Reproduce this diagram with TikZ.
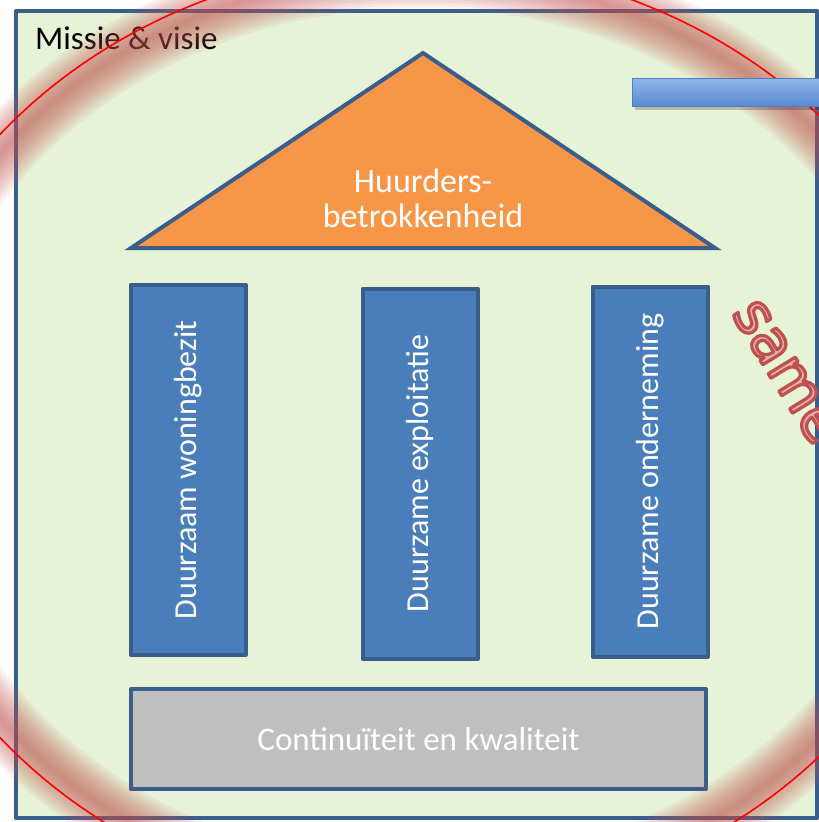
\documentclass[tikz,border=0pt]{standalone}
\usepackage{fontspec}
\setmainfont{Carlito}
\newfontfamily\wmfont{DejaVu Sans}
\usetikzlibrary{calc}
\definecolor{bgreen}{HTML}{E6F3D7}
\definecolor{edge}{HTML}{3A5E8C}
\definecolor{orng}{HTML}{F79646}
\definecolor{pillar}{HTML}{4A7EBB}
\definecolor{grayb}{HTML}{BFBFBF}
\definecolor{glowc}{HTML}{C0504D}
\definecolor{pinkf}{HTML}{E6AEAE}
\definecolor{bartop}{HTML}{8FB6E6}
\definecolor{barbot}{HTML}{5A8AD2}
\definecolor{baredge}{HTML}{4F7EC0}
\newcommand{\outlineon}{\special{pdf:literal direct 2 Tr 3.2 w 1 j 0.753 0.314 0.302 RG}}
\newcommand{\outlineoff}{\special{pdf:literal direct 0 Tr}}
\begin{document}
\begin{tikzpicture}[x=1pt,y=-1pt,
  txt/.style={font=\fontsize{33}{38}\selectfont},
  box/.style={draw=edge, line width=4pt, line join=round},
  pillarbox/.style={box, fill=pillar, minimum width=115pt, minimum height=370pt,
     inner sep=0pt, font=\fontsize{32}{38}\selectfont, text=white},
  baseblock/.style={box, fill=grayb, minimum width=575pt, minimum height=100pt,
     inner sep=0pt, txt, text=white},
  glowline/.style={glowc, opacity=0.078},
  ringline/.style={draw=red, line width=1.6pt}]
\useasboundingbox (0,0) rectangle (819,822);
\clip (0,0) rectangle (819,822);
% frame
\node[box, fill=bgreen, minimum width=801pt, minimum height=807pt, inner sep=0pt] (frame) at (416.5,414.5) {};
\node[txt, text=black, anchor=base west, inner sep=0pt] (title) at (35,49) {Missie \& visie};
% roof
\coordinate (apex) at (423,53);
\coordinate (bl) at (131,248);
\coordinate (br) at (715,248);
\draw[box, fill=orng, line join=miter] (apex) -- (br) -- (bl) -- cycle;
\node[text=white, align=center, font=\fontsize{34}{35}\selectfont] (roof) at (423,198) {Huurders-\\betrokkenheid};
% pillars
\node[pillarbox] (p1) at (188,470) {\rotatebox{90}{Duurzaam woningbezit}};
\node[pillarbox] (p2) at (420,473.5) {\rotatebox{90}{Duurzame exploitatie}};
\node[pillarbox] (p3) at (650,471.5) {\rotatebox{90}{Duurzame onderneming}};
% base
\node[baseblock] (base) at (418.5,739) {Continuïteit en kwaliteit};
% glow and ring
\coordinate (ctr) at (419,436);
\foreach \w in {6,12,...,66}
  \draw[glowline, line width=\w pt] (ctr) ellipse [x radius=530, y radius=461];
\draw[ringline] (ctr) ellipse [x radius=543, y radius=474];
% watermark text
\node[rotate=-58.5, anchor=base west, inner sep=0pt, font=\wmfont\fontsize{58}{60}\selectfont, text=pinkf] (wm) at (731,313) {\outlineon same\outlineoff};
% blue bar
\fill[black, opacity=0.22] (635,82) rectangle (830,110);
\shade[top color=bartop, bottom color=barbot, draw=baredge, line width=1pt] (632,78) rectangle (830,106);
\end{tikzpicture}
\end{document}
